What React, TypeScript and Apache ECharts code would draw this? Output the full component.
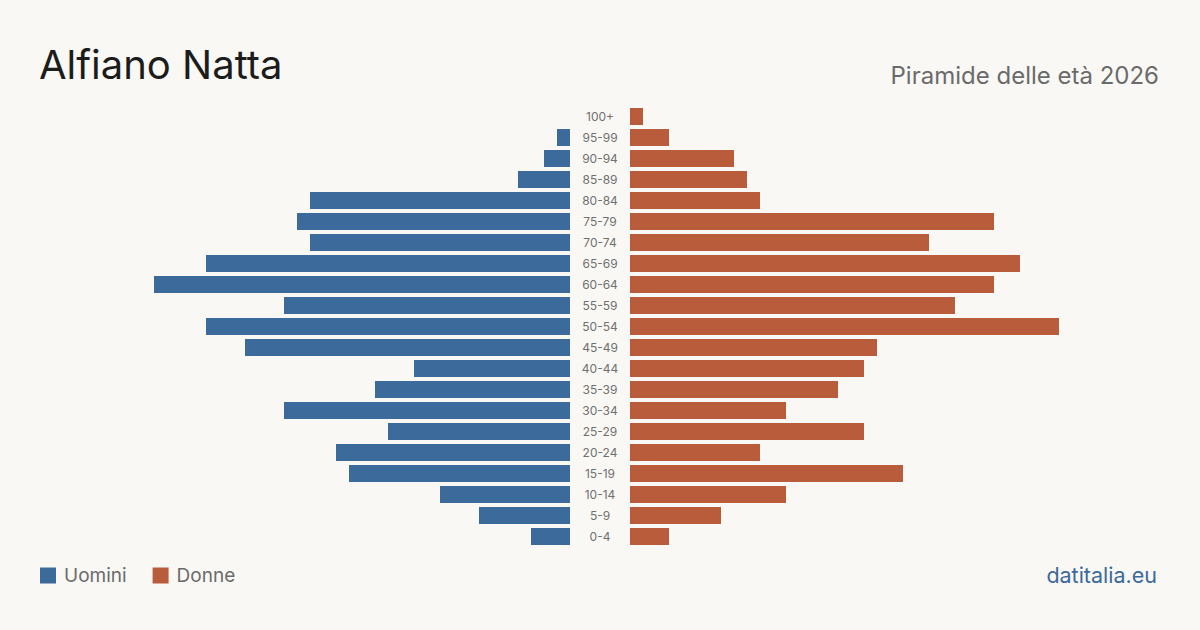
import React, { useEffect, useRef } from "react";
import * as echarts from "echarts";

// Age bands, bottom to top
const ageGroups = [
  "0-4", "5-9", "10-14", "15-19", "20-24", "25-29", "30-34", "35-39", "40-44",
  "45-49", "50-54", "55-59", "60-64", "65-69", "70-74", "75-79", "80-84",
  "85-89", "90-94", "95-99", "100+",
];
const men = [3, 7, 10, 17, 18, 14, 22, 15, 12, 25, 28, 22, 32, 28, 20, 21, 20, 4, 2, 1, 0];
const women = [3, 7, 12, 21, 10, 18, 12, 16, 18, 19, 33, 25, 28, 30, 23, 28, 10, 9, 8, 3, 1];

const axisMax = 33;
const FONT = "Inter, 'Noto Sans', sans-serif";
const BLUE = "#3c6a9b";
const ORANGE = "#b95c3c";

export default function App() {
  const ref = useRef<HTMLDivElement>(null);

  useEffect(() => {
    if (!ref.current) return;
    document.body.style.margin = "0";
    const chart = echarts.init(ref.current, undefined, { renderer: "svg" });
    chart.setOption({
      animation: false,
      backgroundColor: "#f9f8f4",
      textStyle: { fontFamily: FONT },
      title: [
        {
          text: "Alfiano Natta",
          left: 34,
          top: 39,
          textStyle: { fontFamily: FONT, fontSize: 40, fontWeight: 400, color: "#1c1c1c" },
        },
        {
          text: "Piramide delle età 2026",
          right: 36,
          top: 58,
          textStyle: { fontFamily: FONT, fontSize: 24, fontWeight: 400, color: "#6b6b6b" },
        },
      ],
      legend: {
        left: 40,
        bottom: 45,
        padding: 0,
        icon: "rect",
        itemWidth: 16,
        itemHeight: 16,
        itemGap: 26,
        textStyle: { fontFamily: FONT, fontSize: 19, color: "#6b6b6b", padding: [0, 0, 0, 3] },
        data: ["Uomini", "Donne"],
      },
      graphic: [
        {
          type: "text",
          right: 43,
          bottom: 44,
          style: { text: "datitalia.eu", font: `400 21.5px ${FONT}`, fill: BLUE },
        },
      ],
      grid: [
        { left: 141, width: 429, top: 106, bottom: 83 },
        { left: 630, width: 429, top: 106, bottom: 83 },
      ],
      xAxis: [
        { gridIndex: 0, type: "value", min: 0, max: axisMax, inverse: true, show: false },
        { gridIndex: 1, type: "value", min: 0, max: axisMax, show: false },
      ],
      yAxis: [
        {
          gridIndex: 0, type: "category", data: ageGroups, show: false,
        },
        {
          gridIndex: 1,
          type: "category",
          data: ageGroups,
          position: "left",
          axisLine: { show: false },
          axisTick: { show: false },
          axisLabel: {
            margin: 30,
            align: "center",
            fontFamily: FONT,
            fontSize: 12,
            color: "#707070",
          },
        },
      ],
      series: [
        {
          name: "Uomini",
          type: "bar",
          xAxisIndex: 0,
          yAxisIndex: 0,
          data: men,
          barWidth: 17,
          itemStyle: { color: BLUE },
        },
        {
          name: "Donne",
          type: "bar",
          xAxisIndex: 1,
          yAxisIndex: 1,
          data: women,
          barWidth: 17,
          itemStyle: { color: ORANGE },
        },
      ],
    });
    return () => chart.dispose();
  }, []);

  return <div ref={ref} style={{ width: 1200, height: 630 }} />;
}
